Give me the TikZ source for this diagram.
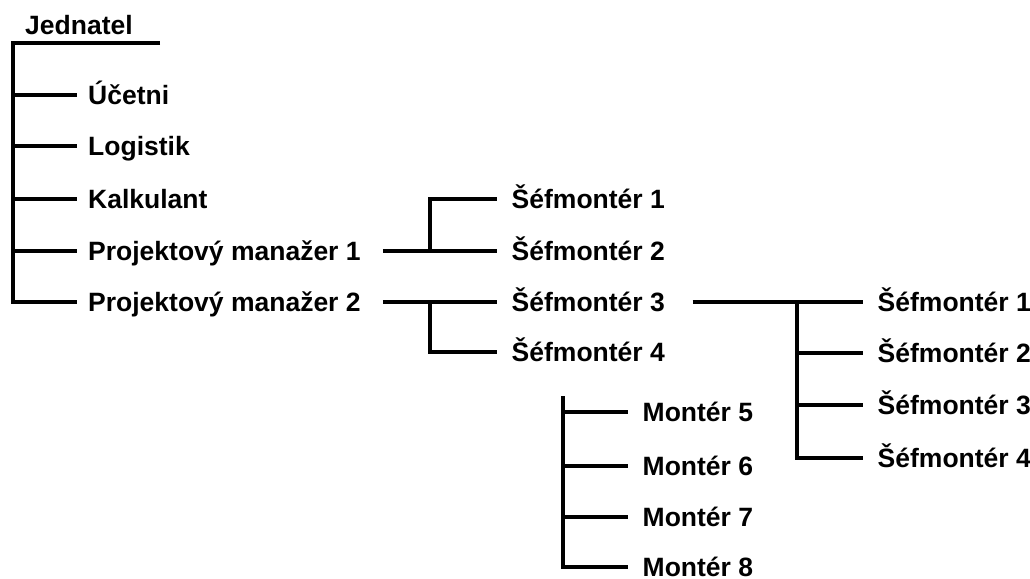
\documentclass[tikz,border=0pt]{standalone}
\usepackage{fontspec}
\setmainfont{Liberation Sans}
\begin{document}
\begin{tikzpicture}[x=1pt,y=-1pt,
  lbl/.style={font=\fontsize{26.5}{30}\selectfont\bfseries, anchor=west,
    inner xsep=11pt, inner ysep=0pt, text height=19pt, text depth=0pt},
  lblw/.style={lbl, inner xsep=14.5pt},
  link/.style={line width=3.3pt, line join=miter, line cap=butt}]
\useasboundingbox (0,0) rectangle (1030,578);
\fill[white] (0,0) rectangle (1030,578);

% --- top level ---
\node[lbl, anchor=base west, inner xsep=0pt] (jed) at (25,35) {Jednatel};
\coordinate (jend) at (160,43);
\coordinate (j0) at (13,43);
\node[lbl] (ucet) at (77,95) {Účetni};
\node[lbl] (logi) at (77,146) {Logistik};
\node[lbl] (kalk) at (77,199) {Kalkulant};
\node[lbl] (pm1) at (77,251) {Projektový manažer 1};
\node[lbl] (pm2) at (77,302) {Projektový manažer 2};

\draw[link] (jend) -- (j0) |- (pm2.west);
\foreach \n in {ucet,logi,kalk,pm1}
  \draw[link] (j0 |- \n.west) -- (\n.west);

% --- project manager 1 ---
\node[lblw] (sa1) at (497,199) {Šéfmontér 1};
\node[lblw] (sa2) at (497,251) {Šéfmontér 2};
\coordinate (mj1) at (430,251);
\draw[link] ([xshift=11pt]pm1.east) -- (sa2.west);
\draw[link] (mj1) |- (sa1.west);

% --- project manager 2 ---
\node[lblw] (sb3) at (497,302) {Šéfmontér 3};
\node[lblw] (sb4) at (497,352) {Šéfmontér 4};
\coordinate (mj2) at (430,302);
\draw[link] ([xshift=11pt]pm2.east) -- (sb3.west);
\draw[link] (mj2) |- (sb4.west);

% --- under Šéfmontér 3 ---
\node[lblw] (r1) at (863,302) {Šéfmontér 1};
\node[lblw] (r2) at (863,353) {Šéfmontér 2};
\node[lblw] (r3) at (863,405) {Šéfmontér 3};
\node[lblw] (r4) at (863,458) {Šéfmontér 4};
\coordinate (rj) at (797,302);
\draw[link] ([xshift=13pt]sb3.east) -- (r1.west);
\draw[link] (rj) |- (r4.west);
\draw[link] (rj |- r2.west) -- (r2.west);
\draw[link] (rj |- r3.west) -- (r3.west);

% --- fitters ---
\node[lblw] (m5) at (628,412) {Montér 5};
\node[lblw] (m6) at (628,466) {Montér 6};
\node[lblw] (m7) at (628,517) {Montér 7};
\node[lblw] (m8) at (628,567) {Montér 8};
\coordinate (bt) at (563,396);
\draw[link] (bt) |- (m8.west);
\foreach \n in {m5,m6,m7}
  \draw[link] (bt |- \n.west) -- (\n.west);
\end{tikzpicture}
\end{document}
